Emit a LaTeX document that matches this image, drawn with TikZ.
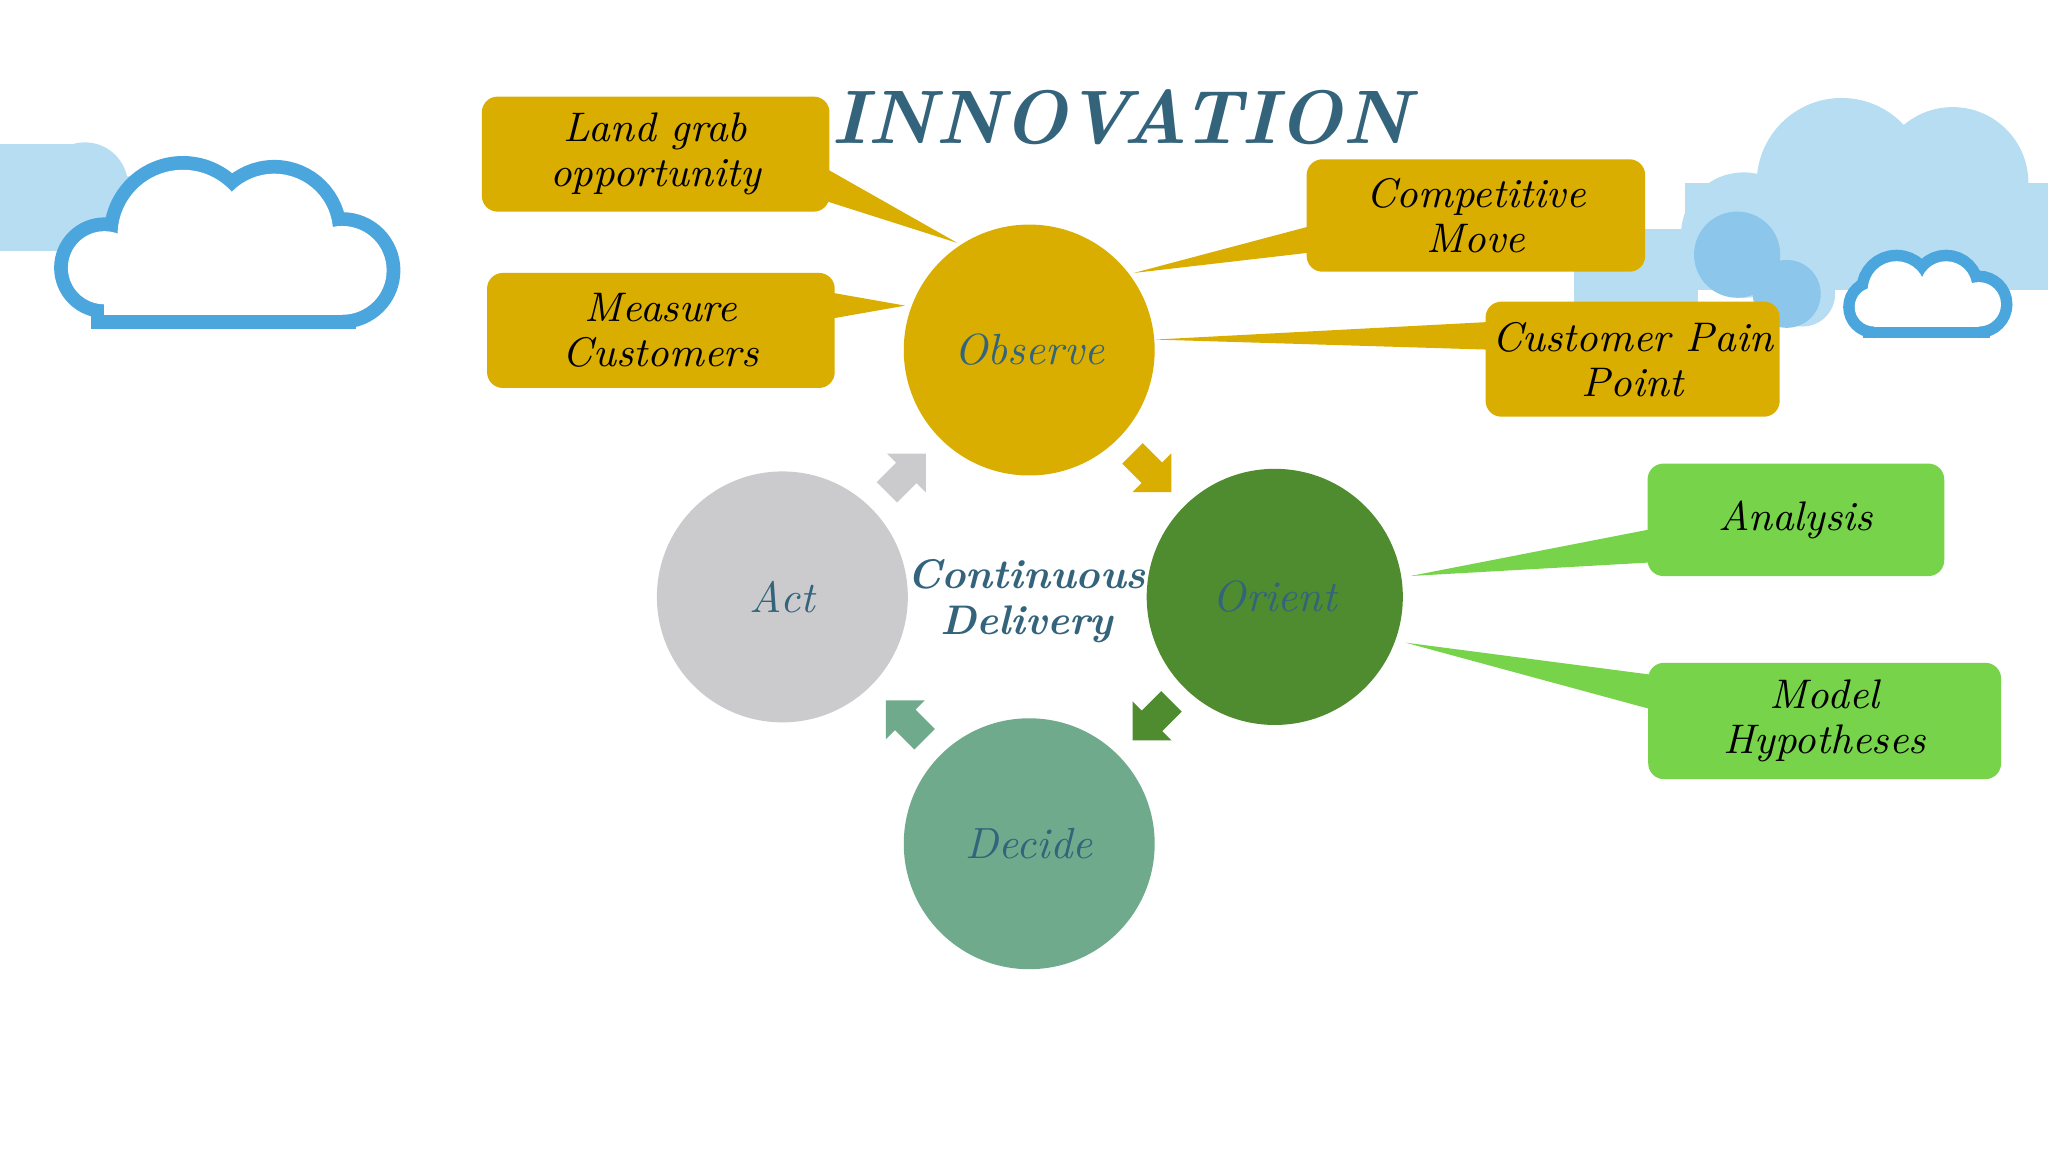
\documentclass[tikz,border=0pt]{standalone}
\usetikzlibrary{shapes.arrows}
\definecolor{gold}{HTML}{D9AE00}
\definecolor{ogreen}{HTML}{4F8C2F}
\definecolor{dgreen}{HTML}{6FAA8C}
\definecolor{agrey}{HTML}{CBCBCE}
\definecolor{lgreen}{HTML}{77D44A}
\definecolor{teal}{HTML}{33647C}
\definecolor{cloudA}{HTML}{B7DDF3}
\definecolor{cloudB}{HTML}{8CC6EA}
\definecolor{cloudL}{HTML}{4AA6DD}
\begin{document}
\begin{tikzpicture}[x=0.01cm,y=-0.01cm,
  circ/.style={circle,minimum size=1.92cm,inner sep=0pt,font=\itshape\fontsize{9.5}{10}\selectfont,text=teal},
  gbox/.style={fill=gold,rounded corners=0.12cm,align=center,font=\itshape\fontsize{9}{9.8}\selectfont,inner sep=0pt},
  lbox/.style={gbox,fill=lgreen},
  barrow/.style={single arrow,minimum height=0.42cm,minimum width=0.42cm,single arrow head extend=0.06cm,inner sep=0.06cm}]
\useasboundingbox (0,0) rectangle (1568,882);
\fill[white] (0,0) rectangle (1568,882);
% left clouds
\fill[cloudA] (0,110) rectangle (60,192);
\fill[cloudA] (65,142) circle (33);
\fill[cloudA] (100,165) circle (30);
\fill[cloudA] (40,150) rectangle (100,192);
\foreach \c/\r in {{(80,205)}/28,{(140,180)}/50,{(210,178)}/45,{(262,207)}/34}
  \draw[cloudL,line width=6pt] \c circle (\r);
\draw[cloudL,line width=6pt] (80,190) rectangle (262,241);
\foreach \c/\r in {{(80,205)}/28,{(140,180)}/50,{(210,178)}/45,{(262,207)}/34}
  \fill[white] \c circle (\r);
\fill[white] (80,190) rectangle (262,241);
% right clouds
\foreach \c/\r in {{(1410,140)}/65,{(1495,140)}/58,{(1335,180)}/48,{(1380,225)}/25}
  \fill[cloudA] \c circle (\r);
\fill[cloudA] (1290,140) rectangle (1568,222);
\fill[cloudA] (1205,175) rectangle (1300,250);
\fill[cloudB] (1330,195) circle (33);
\fill[cloudB] (1368,225) circle (26);
\foreach \c/\r in {{(1435,235)}/15,{(1452,222)}/22,{(1490,220)}/20,{(1515,233)}/17}
  \draw[cloudL,line width=5pt] \c circle (\r);
\draw[cloudL,line width=5pt] (1435,228) rectangle (1515,250);
\foreach \c/\r in {{(1435,235)}/15,{(1452,222)}/22,{(1490,220)}/20,{(1515,233)}/17}
  \fill[white] \c circle (\r);
\fill[white] (1435,228) rectangle (1515,250);
% title
\node (title) at (858,90) {\bfseries\itshape\fontsize{16.5}{18}\selectfont\color{teal}INNOVATION};
% circles
\node[circ,fill=gold] (obs) at (788,268) {Observe};
\node[circ,fill=ogreen,minimum size=1.96cm] (ori) at (976,457) {Orient};
\node[circ,fill=dgreen] (dec) at (788,646) {Decide};
\node[circ,fill=agrey] (act) at (599,457) {Act};
\node[align=center,font=\bfseries\itshape\fontsize{9}{10}\selectfont,text=teal] (cd) at (786,460) {Continuous\\Delivery};
% arrows
\node[barrow,fill=gold,rotate=-45] (a1) at (878,358) {};
\node[barrow,fill=ogreen,rotate=-135] (a2) at (886,548) {};
\node[barrow,fill=dgreen,rotate=135] (a3) at (697,555) {};
\node[barrow,fill=agrey,rotate=45] (a4) at (690,366) {};
% callout wedges
\coordinate (p1) at (733,186); \coordinate (p2) at (693,234);
\coordinate (p3) at (868,209); \coordinate (p4) at (884,260);
\coordinate (p5) at (1080,441); \coordinate (p6) at (1076,492);
\fill[gold] (620,122) -- (620,150) -- (p1) -- cycle;
\fill[gold] (625,222) -- (625,246) -- (p2) -- cycle;
\fill[gold] (1015,170) -- (1015,192) -- (p3) -- cycle;
\fill[gold] (1150,246) -- (1150,268) -- (p4) -- cycle;
\fill[lgreen] (1275,403) -- (1275,430) -- (p5) -- cycle;
\fill[lgreen] (1275,518) -- (1275,546) -- (p6) -- cycle;
% boxes
\node[gbox,minimum width=2.66cm,minimum height=0.88cm] (b1) at (502,118) {Land grab\\opportunity};
\node[gbox,minimum width=2.66cm,minimum height=0.88cm] (b2) at (506,253) {Measure\\Customers};
\node[gbox,minimum width=2.59cm,minimum height=0.86cm] (b3) at (1130,165) {Competitive\\Move};
\node[gbox,minimum width=2.25cm,minimum height=0.88cm] (b4) at (1250,275) {Customer Pain\\Point};
\node[lbox,minimum width=2.27cm,minimum height=0.86cm] (b5) at (1375,398) {Analysis};
\node[lbox,minimum width=2.70cm,minimum height=0.89cm] (b6) at (1397,552) {Model\\Hypotheses};
\end{tikzpicture}
\end{document}
